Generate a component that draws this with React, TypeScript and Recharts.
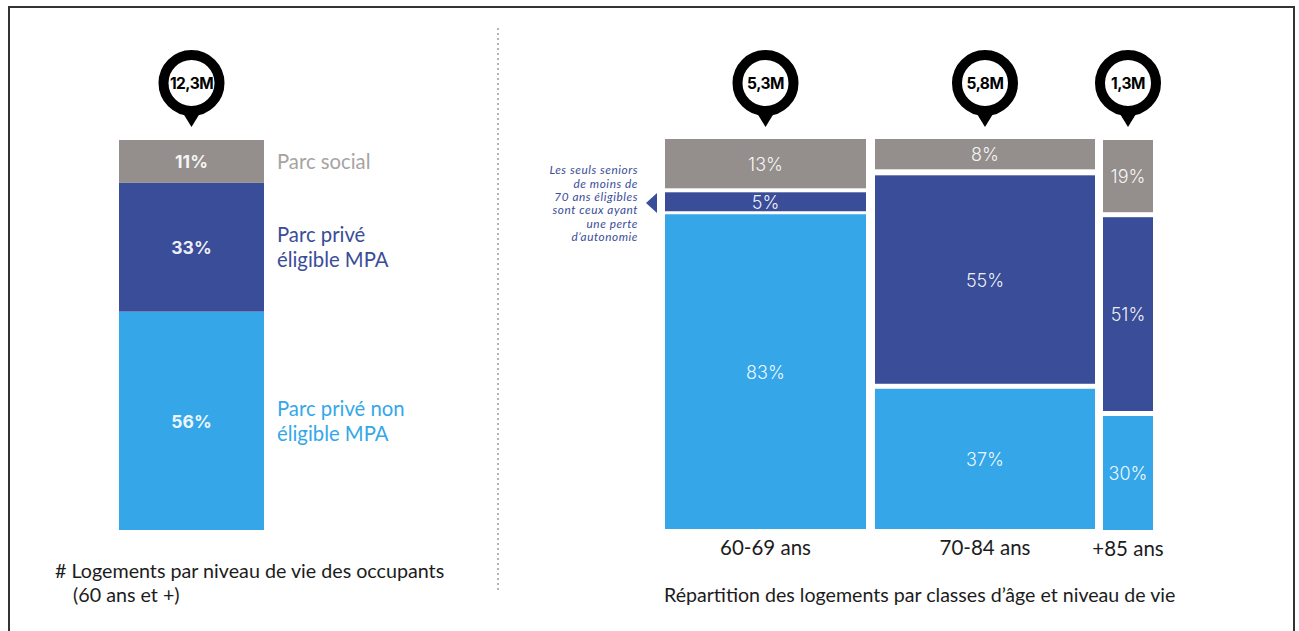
import React from "react";
import { BarChart, Bar, XAxis, YAxis, LabelList } from "recharts";

// Housing stock shares (%) and totals (millions of dwellings)
const overallLabel = "Ensemble";
const overallTotal = "12,3M";
const overallSocial = 11;
const overallEligible = 33;
const overallNonEligible = 56;

const ageLabels = ["60-69 ans", "70-84 ans", "+85 ans"];
const ageTotals = [5.3, 5.8, 1.3];
const ageTotalLabels = ["5,3M", "5,8M", "1,3M"];
const ageSocial = [13, 8, 19];
const ageEligible = [5, 55, 51];
const ageNonEligible = [83, 37, 30];

const legendSocial = ["Parc social"];
const legendEligible = ["Parc privé", "éligible MPA"];
const legendNonEligible = ["Parc privé non", "éligible MPA"];
const noteLines = [
  "Les seuls seniors",
  "de moins de",
  "70 ans éligibles",
  "sont ceux ayant",
  "une perte",
  "d’autonomie",
];

const GREY = "#948f8d";
const NAVY = "#3a4d98";
const SKY = "#35a7e9";
const FONT = "Lato, sans-serif";
const PIN_FONT = "Inter, sans-serif";
const PCT_FONT = "Inter, sans-serif";

const PAD = 40; // room either side of a column for the pin and the tick text
const PIN_CY = 83;
const PLOT_HEIGHT = 390;
const AXIS_HEIGHT = 40;
const PX_PER_MILLION = 37.9;

type ColumnProps = {
  left: number;
  bottom: number;
  width: number;
  label: string;
  totalLabel: string;
  social: number;
  eligible: number;
  nonEligible: number;
  gaps: [number, number];
  showAxis: boolean;
  pctWeight: number;
  pctSize: number;
};

// Category tick drawn as one line, whatever the column width
function AgeTick(props: any) {
  return (
    <text
      x={props.x}
      y={props.y + 18}
      textAnchor="middle"
      fill="#1c1c1c"
      fontFamily={FONT}
      fontSize={20.5}
    >
      {props.payload.value}
    </text>
  );
}

// Stacked column. The stack keeps its real scale and each segment is lifted
// by the white gaps that sit below it.
function Column(p: ColumnProps) {
  const gapTotal = p.gaps[0] + p.gaps[1];
  const chartTop = p.bottom - PLOT_HEIGHT - 99;
  const height = p.bottom - chartTop + AXIS_HEIGHT;
  const data = [
    {
      name: p.label,
      nonEligible: p.nonEligible,
      eligible: p.eligible,
      social: p.social,
      total: p.totalLabel,
    },
  ];
  const segment = (fill: string, lift: number) => (s: any) => (
    <rect x={s.x} y={s.y - lift} width={s.width} height={s.height} fill={fill} />
  );
  const pct = (lift: number) => (s: any) => (
    <text
      x={s.x + s.width / 2}
      y={s.y + s.height / 2 - lift}
      dy="0.4em"
      textAnchor="middle"
      fill="#ffffff"
      fillOpacity={0.93}
      fontFamily={PCT_FONT}
      fontWeight={p.pctWeight}
      fontSize={p.pctSize}
    >
      {s.value}%
    </text>
  );
  const pin = (s: any) => {
    const cx = s.x + s.width / 2;
    const cy = PIN_CY - chartTop;
    return (
      <g>
        <circle cx={cx} cy={cy} r={28} fill="#ffffff" stroke="#000000" strokeWidth={10} />
        <path d={`M${cx - 8} ${cy + 31} L${cx + 8} ${cy + 31} L${cx} ${cy + 44} Z`} fill="#000000" />
        <text
          x={cx}
          y={cy}
          dy="0.36em"
          textAnchor="middle"
          fill="#000000"
          fontFamily={PIN_FONT}
          fontWeight={700}
          fontSize={15.5}
          letterSpacing={-0.5}
        >
          {s.value}
        </text>
      </g>
    );
  };
  return (
    <div style={{ position: "absolute", left: p.left - PAD, top: chartTop }}>
      <BarChart
        width={p.width + PAD * 2}
        height={height}
        data={data}
        barCategoryGap={0}
        margin={{ top: 99 + gapTotal, right: PAD, bottom: p.showAxis ? 0 : AXIS_HEIGHT, left: PAD }}
      >
        <XAxis
          dataKey="name"
          hide={!p.showAxis}
          height={AXIS_HEIGHT}
          interval={0}
          axisLine={false}
          tickLine={false}
          tick={<AgeTick />}
        />
        <YAxis hide domain={[0, p.nonEligible + p.eligible + p.social]} />
        <Bar dataKey="nonEligible" stackId="s" isAnimationActive={false} shape={segment(SKY, 0)}>
          <LabelList dataKey="nonEligible" content={pct(0)} />
        </Bar>
        <Bar dataKey="eligible" stackId="s" isAnimationActive={false} shape={segment(NAVY, p.gaps[0])}>
          <LabelList dataKey="eligible" content={pct(p.gaps[0])} />
        </Bar>
        <Bar dataKey="social" stackId="s" isAnimationActive={false} shape={segment(GREY, gapTotal)}>
          <LabelList dataKey="social" content={pct(gapTotal)} />
          <LabelList dataKey="total" content={pin} />
        </Bar>
      </BarChart>
    </div>
  );
}

const columnLefts = [665, 875, 1103];
const columnBottoms = [529, 529, 530];
const columnGaps: [number, number][] = [
  [3, 4],
  [5, 6],
  [5, 5],
];

export default function App() {
  const legendText = (lines: string[], y: number, fill: string) =>
    lines.map((t, i) => (
      <text key={t} x={277} y={y + i * 25} fill={fill} fontFamily={FONT} fontSize={20.3}>
        {t}
      </text>
    ));
  return (
    <div style={{ position: "absolute", left: 0, top: 0, width: 1299, height: 631, overflow: "hidden", background: "#fff" }}>
      <svg width={1299} height={631} style={{ position: "absolute", left: 0, top: 0 }}>
        <path d="M9 640 V7 H1294 V640" fill="none" stroke="#333333" strokeWidth={2} />
        <line x1={498} y1={28} x2={498} y2={590} stroke="#b4b4b4" strokeWidth={2} strokeDasharray="2 3" />
        {legendText(legendSocial, 169, "#a6a3a1")}
        {legendText(legendEligible, 242, NAVY)}
        {legendText(legendNonEligible, 416, SKY)}
        {noteLines.map((t, i) => (
          <text
            key={t}
            x={638}
            y={[174, 188, 201, 214, 228, 241][i]}
            textAnchor="end"
            fill={NAVY}
            fontFamily={FONT}
            fontStyle="italic"
            fontSize={11.8}
            letterSpacing={0.55}
          >
            {t}
          </text>
        ))}
        <path d="M646 203 L657 193 V213 Z" fill={NAVY} />
        <text x={55} y={578} fill="#1c1c1c" fontFamily={FONT} fontSize={19.7}>
          # Logements par niveau de vie des occupants
        </text>
        <text x={73} y={602} fill="#1c1c1c" fontFamily={FONT} fontSize={19.7}>
          (60 ans et +)
        </text>
        <text x={664} y={602} fill="#1c1c1c" fontFamily={FONT} fontSize={19.6}>
          Répartition des logements par classes d’âge et niveau de vie
        </text>
      </svg>
      <Column
        left={119}
        bottom={530}
        width={145}
        label={overallLabel}
        totalLabel={overallTotal}
        social={overallSocial}
        eligible={overallEligible}
        nonEligible={overallNonEligible}
        gaps={[0, 0]}
        showAxis={false}
        pctWeight={700}
        pctSize={17.5}
      />
      {ageLabels.map((label, i) => (
        <Column
          key={label}
          left={columnLefts[i]}
          bottom={columnBottoms[i]}
          width={Math.ceil(ageTotals[i] * PX_PER_MILLION)}
          label={label}
          totalLabel={ageTotalLabels[i]}
          social={ageSocial[i]}
          eligible={ageEligible[i]}
          nonEligible={ageNonEligible[i]}
          gaps={columnGaps[i]}
          showAxis
          pctWeight={300}
          pctSize={18}
        />
      ))}
    </div>
  );
}
